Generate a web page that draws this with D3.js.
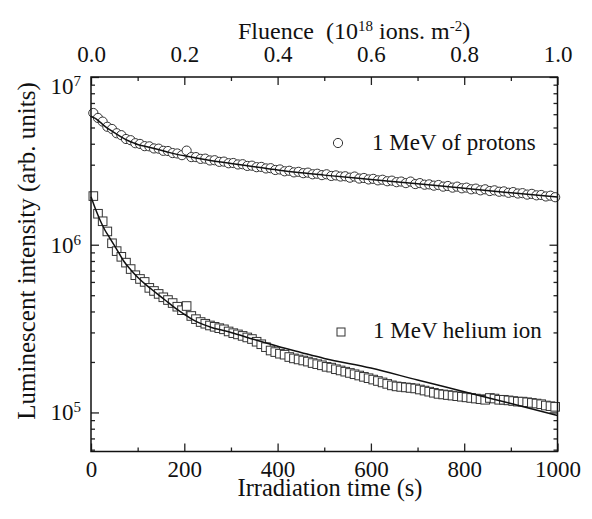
<!DOCTYPE html>
<html>
<head>
<meta charset="utf-8">
<script src="https://cdn.jsdelivr.net/npm/d3@7"></script>
</head>
<body style="margin:0;background:#fff">
<div id="chart"></div>
<script>
// irradiation time of each measurement (s)
const timeS = [
  5, 15, 25, 35, 45, 55, 65, 75, 85, 95,
  105, 115, 125, 135, 145, 155, 165, 175, 185, 195,
  205, 215, 225, 235, 245, 255, 265, 275, 285, 295,
  305, 315, 325, 335, 345, 355, 365, 375, 385, 395,
  405, 415, 425, 435, 445, 455, 465, 475, 485, 495,
  505, 515, 525, 535, 545, 555, 565, 575, 585, 595,
  605, 615, 625, 635, 645, 655, 665, 675, 685, 695,
  705, 715, 725, 735, 745, 755, 765, 775, 785, 795,
  805, 815, 825, 835, 845, 855, 865, 875, 885, 895,
  905, 915, 925, 935, 945, 955, 965, 975, 985, 995
];

// 1 MeV protons, luminescent intensity (arb. units)
const protonIntensity = [
  6.10e6, 5.70e6, 5.42e6, 5.05e6, 4.90e6, 4.62e6, 4.50e6, 4.27e6, 4.20e6, 4.03e6,
  3.99e6, 3.87e6, 3.86e6, 3.75e6, 3.74e6, 3.63e6, 3.62e6, 3.52e6, 3.50e6, 3.42e6,
  3.64e6, 3.33e6, 3.33e6, 3.25e6, 3.26e6, 3.18e6, 3.19e6, 3.12e6, 3.13e6, 3.06e6,
  3.07e6, 3.01e6, 3.02e6, 2.95e6, 2.96e6, 2.90e6, 2.91e6, 2.85e6, 2.86e6, 2.79e6,
  2.81e6, 2.74e6, 2.76e6, 2.70e6, 2.72e6, 2.67e6, 2.69e6, 2.63e6, 2.65e6, 2.60e6,
  2.63e6, 2.57e6, 2.59e6, 2.55e6, 2.56e6, 2.51e6, 2.55e6, 2.48e6, 2.50e6, 2.45e6,
  2.47e6, 2.42e6, 2.44e6, 2.39e6, 2.41e6, 2.36e6, 2.38e6, 2.33e6, 2.38e6, 2.30e6,
  2.33e6, 2.28e6, 2.29e6, 2.25e6, 2.27e6, 2.22e6, 2.24e6, 2.19e6, 2.22e6, 2.17e6,
  2.19e6, 2.14e6, 2.16e6, 2.11e6, 2.14e6, 2.09e6, 2.11e6, 2.07e6, 2.08e6, 2.04e6,
  2.06e6, 2.02e6, 2.03e6, 1.99e6, 2.01e6, 1.97e6, 1.98e6, 1.94e6, 1.96e6, 1.92e6
];

// 1 MeV helium ions, luminescent intensity (arb. units)
const heliumIntensity = [
  1.95e6, 1.53e6, 1.38e6, 1.20e6, 1.02e6, 9.16e5, 8.47e5, 7.82e5, 7.16e5, 6.58e5,
  6.25e5, 6.00e5, 5.53e5, 5.30e5, 5.09e5, 4.86e5, 4.68e5, 4.49e5, 4.27e5, 4.07e5,
  4.31e5, 3.76e5, 3.60e5, 3.46e5, 3.38e5, 3.30e5, 3.24e5, 3.18e5, 3.13e5, 3.04e5,
  2.97e5, 2.92e5, 2.86e5, 2.80e5, 2.74e5, 2.64e5, 2.55e5, 2.45e5, 2.34e5, 2.29e5,
  2.24e5, 2.21e5, 2.14e5, 2.10e5, 2.07e5, 2.04e5, 2.01e5, 1.97e5, 1.94e5, 1.91e5,
  1.87e5, 1.85e5, 1.81e5, 1.78e5, 1.75e5, 1.72e5, 1.69e5, 1.66e5, 1.63e5, 1.60e5,
  1.57e5, 1.54e5, 1.51e5, 1.48e5, 1.45e5, 1.43e5, 1.42e5, 1.41e5, 1.40e5, 1.39e5,
  1.37e5, 1.35e5, 1.33e5, 1.31e5, 1.29e5, 1.28e5, 1.27e5, 1.26e5, 1.25e5, 1.24e5,
  1.23e5, 1.22e5, 1.21e5, 1.20e5, 1.19e5, 1.22e5, 1.21e5, 1.19e5, 1.19e5, 1.18e5,
  1.17e5, 1.16e5, 1.16e5, 1.15e5, 1.14e5, 1.13e5, 1.12e5, 1.10e5, 1.09e5, 1.08e5
];

// fitted curves
const protonFitTime = [0, 10, 20, 30, 40, 50, 60, 70, 80, 90, 100, 120, 140, 160, 180, 200, 250, 300, 350, 400, 450, 500, 600, 700, 800, 900, 1000];
const protonFitIntensity = [5.85e6, 5.65e6, 5.36e6, 5.08e6, 4.85e6, 4.66e6, 4.47e6, 4.31e6, 4.17e6, 4.06e6, 3.96e6, 3.84e6, 3.72e6, 3.60e6, 3.48e6, 3.39e6, 3.20e6, 3.05e6, 2.92e6, 2.79e6, 2.685e6, 2.60e6, 2.449e6, 2.307e6, 2.168e6, 2.042e6, 1.923e6];

const heliumFitTime = [0, 10, 20, 30, 40, 50, 60, 70, 85, 100, 120, 140, 160, 180, 200, 220, 240, 260, 280, 300, 350, 400, 450, 500, 600, 700, 800, 900, 1000];
const heliumFitIntensity = [1.93e6, 1.62e6, 1.39e6, 1.22e6, 1.10e6, 9.9e5, 8.9e5, 8.0e5, 7.1e5, 6.4e5, 5.7e5, 5.15e5, 4.65e5, 4.2e5, 3.85e5, 3.55e5, 3.35e5, 3.2e5, 3.1e5, 3.0e5, 2.72e5, 2.48e5, 2.28e5, 2.1e5, 1.84e5, 1.56e5, 1.33e5, 1.13e5, 9.6e4];

// axis ticks
const timeTicks = [0, 200, 400, 600, 800, 1000];
const timeMinorTicks = [100, 300, 500, 700, 900];
const fluenceTicks = [0, 0.2, 0.4, 0.6, 0.8, 1.0];
const fluenceMinorTicks = [0.1, 0.3, 0.5, 0.7, 0.9];
const intensityTicks = [1e5, 1e6, 1e7];
const intensityMinorTicks = [6e4, 7e4, 8e4, 9e4, 2e5, 3e5, 4e5, 5e5, 6e5, 7e5, 8e5, 9e5,
  2e6, 3e6, 4e6, 5e6, 6e6, 7e6, 8e6, 9e6];
const legendLabels = ['1 MeV of protons', '1 MeV helium ion'];

const W = 592, H = 519;
const x0 = 91, x1 = 557.5, y0 = 77, y1 = 451.5;
const SERIF = '"Liberation Serif"';

const svg = d3.select('#chart').append('svg')
  .attr('width', W).attr('height', H)
  .style('display', 'block');

const x = d3.scaleLinear().domain([0, 1000]).range([x0, x1]);
const xFluence = d3.scaleLinear().domain([0, 1]).range([x0, x1]);
const y = d3.scaleLog().domain([5.85e4, 1e7]).range([y1, y0]);

const protons = timeS.map((t, i) => ({ t, v: protonIntensity[i] }));
const helium = timeS.map((t, i) => ({ t, v: heliumIntensity[i] }));
const protonFit = protonFitTime.map((t, i) => ({ t, v: protonFitIntensity[i] }));
const heliumFit = heliumFitTime.map((t, i) => ({ t, v: heliumFitIntensity[i] }));

// axes helper: strip domain, style ticks
function styleAxis(g, size) {
  g.attr('font-size', size);
  g.select('.domain').remove();
  g.selectAll('.tick line').attr('stroke', '#222').attr('stroke-width', 1.3);
}

// bottom
svg.append('g').attr('transform', `translate(0,${y1})`)
  .call(d3.axisBottom(x).tickValues(timeTicks).tickSize(-8).tickPadding(9).tickFormat(d3.format('d')))
  .call(g => styleAxis(g, 23));
svg.append('g').attr('transform', `translate(0,${y1})`)
  .call(d3.axisBottom(x).tickValues(timeMinorTicks).tickSize(-4).tickFormat(''))
  .call(g => styleAxis(g, 23));

// top (fluence)
svg.append('g').attr('transform', `translate(0,${y0})`)
  .call(d3.axisTop(xFluence).tickValues(fluenceTicks).tickSize(-8).tickPadding(15).tickFormat(d3.format('.1f')))
  .call(g => styleAxis(g, 23));
svg.append('g').attr('transform', `translate(0,${y0})`)
  .call(d3.axisTop(xFluence).tickValues(fluenceMinorTicks).tickSize(-4).tickFormat(''))
  .call(g => styleAxis(g, 23));

// left (log)
const leftAxis = svg.append('g').attr('transform', `translate(${x0},0)`)
  .call(d3.axisLeft(y).tickValues(intensityTicks).tickSize(-8).tickPadding(10).tickFormat(() => ''))
  .call(g => styleAxis(g, 23));
leftAxis.selectAll('.tick text').each(function (d) {
  const t = d3.select(this).text(null).attr('y', d === 1e7 ? 9 : 0);
  t.append('tspan').text('10');
  t.append('tspan').attr('dy', -8).attr('font-size', 15).text(Math.round(Math.log10(d)));
});
svg.append('g').attr('transform', `translate(${x0},0)`)
  .call(d3.axisLeft(y).tickValues(intensityMinorTicks).tickSize(-4).tickFormat(''))
  .call(g => styleAxis(g, 23));

// right (log, ticks only)
svg.append('g').attr('transform', `translate(${x1},0)`)
  .call(d3.axisRight(y).tickValues(intensityTicks).tickSize(-8).tickFormat(''))
  .call(g => styleAxis(g, 23));
svg.append('g').attr('transform', `translate(${x1},0)`)
  .call(d3.axisRight(y).tickValues(intensityMinorTicks).tickSize(-4).tickFormat(''))
  .call(g => styleAxis(g, 23));

// markers
const marks = svg.append('g');
marks.append('g').selectAll('circle').data(protons).join('circle')
  .attr('cx', d => x(d.t)).attr('cy', d => y(d.v)).attr('r', 4.6)
  .attr('fill', '#fff').attr('stroke', '#333').attr('stroke-width', 1);
marks.append('g').selectAll('rect').data(helium).join('rect')
  .attr('x', d => x(d.t) - 4.3).attr('y', d => y(d.v) - 4.3)
  .attr('width', 8.6).attr('height', 8.6)
  .attr('fill', '#fff').attr('stroke', '#333').attr('stroke-width', 1);

// fitted curves
const line = d3.line().x(d => x(d.t)).y(d => y(d.v)).curve(d3.curveMonotoneX);
[protonFit, heliumFit].forEach(s => {
  svg.append('path').datum(s).attr('d', line)
    .attr('fill', 'none').attr('stroke', '#111').attr('stroke-width', 1.5);
});

// frame
svg.append('rect').attr('x', x0).attr('y', y0).attr('width', x1 - x0).attr('height', y1 - y0)
  .attr('fill', 'none').attr('stroke', '#111').attr('stroke-width', 1.5);

// legend
svg.append('circle').attr('cx', 338).attr('cy', 143).attr('r', 4.6)
  .attr('fill', '#fff').attr('stroke', '#333').attr('stroke-width', 1);
svg.append('text').attr('x', 372).attr('y', 150).attr('font-size', 23).text(legendLabels[0]);
svg.append('rect').attr('x', 337).attr('y', 328).attr('width', 8).attr('height', 8)
  .attr('fill', '#fff').attr('stroke', '#333').attr('stroke-width', 1);
svg.append('text').attr('x', 373).attr('y', 338).attr('font-size', 23).text(legendLabels[1]);

// titles
svg.append('text').attr('x', 330).attr('y', 496).attr('text-anchor', 'middle')
  .attr('font-size', 24.5).text('Irradiation time (s)');
svg.append('text').attr('transform', 'translate(35,251) rotate(-90)').attr('text-anchor', 'middle')
  .attr('font-size', 25).text('Luminescent intensity (arb. units)');

const fluenceTitle = svg.append('text').attr('x', 238).attr('y', 39).attr('font-size', 24)
  .style('white-space', 'pre');
fluenceTitle.append('tspan').text('Fluence  (10');
fluenceTitle.append('tspan').attr('dy', -8).attr('font-size', 15).text('18');
fluenceTitle.append('tspan').attr('dy', 8).text(' ions. m');
fluenceTitle.append('tspan').attr('dy', -8).attr('font-size', 15).text('-2');
fluenceTitle.append('tspan').attr('dy', 8).text(')');

// serif everywhere
svg.selectAll('text').style('font-family', SERIF).attr('fill', '#111');
</script>
</body>
</html>
